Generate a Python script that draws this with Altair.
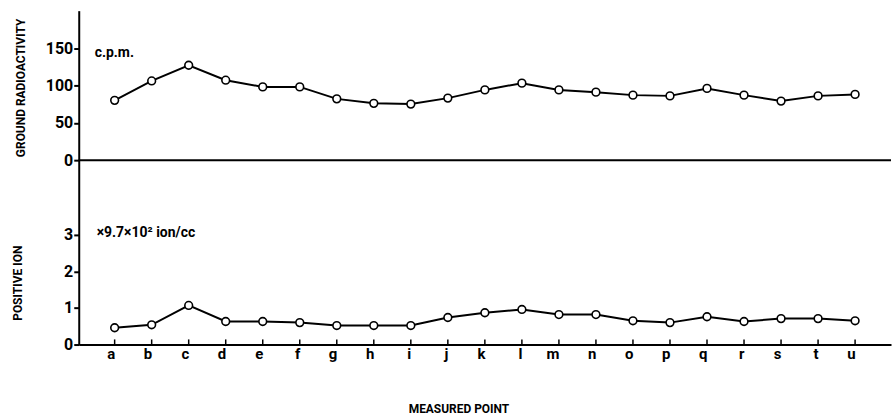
import altair as alt
import pandas as pd

# Measured points along the survey line
points = list("abcdefghijklmnopqrstu")

# Ground radioactivity (c.p.m.)
radioactivity = [80, 106, 127, 107, 98, 98, 82, 76, 75, 83, 94,
                 103, 94, 91, 87, 86, 96, 87, 79, 86, 88]

# Positive ion density (x 9.7 x 10^2 ion/cc)
positive_ion = [0.46, 0.54, 1.07, 0.63, 0.63, 0.60, 0.52, 0.52, 0.52, 0.74, 0.87,
                0.96, 0.82, 0.82, 0.65, 0.60, 0.76, 0.63, 0.71, 0.71, 0.65]

cpm_ticks = [0, 50, 100, 150]
ion_ticks = [0, 1, 2, 3]

# Unit notes written inside each panel
cpm_unit = ["c.p.m."]
ion_unit = ["×9.7×10²  ion/cc"]

df = pd.DataFrame({"point": points, "cpm": radioactivity, "ion": positive_ion})
one = pd.DataFrame({"cpm_unit": cpm_unit, "ion_unit": ion_unit})

FONT = "Roboto"
W = 815

x_scale = alt.Scale(type="point", domain=points, padding=0.97)
cpm_scale = alt.Scale(domain=[0, 200], nice=False)
ion_scale = alt.Scale(domain=[0, 5.045], nice=False)

axis_common = dict(
    domainColor="black", domainWidth=2, tickColor="black", tickWidth=2,
    labelFont=FONT, labelFontWeight="bold", labelColor="black",
    titleFont=FONT, titleFontWeight="bold", titleColor="black",
    grid=False,
)

point_style = dict(filled=True, fill="white", stroke="black",
                   strokeWidth=1.6, size=60, opacity=1)

text_style = dict(font=FONT, fontWeight="bold", fontSize=14, align="left",
                  baseline="middle", color="black")

# ---- upper panel: ground radioactivity ----
top_x = alt.X("point:N", scale=x_scale, axis=None)
top_y = alt.Y("cpm:Q", scale=cpm_scale,
              axis=alt.Axis(values=cpm_ticks, title="GROUND RADIOACTIVITY",
                            tickSize=5, labelPadding=1, labelFontSize=16,
                            titleFontSize=12, titleX=-58, titleY=77,
                            titleAlign="center", titleBaseline="middle",
                            **axis_common))

top_base = alt.Chart(df).encode(x=top_x, y=top_y)
top = alt.layer(
    # zero line running across the whole panel
    alt.Chart(one).mark_rule(color="black", strokeWidth=2).encode(
        y=alt.datum(0, scale=cpm_scale)),
    top_base.mark_line(color="black", strokeWidth=2),
    top_base.mark_point(**point_style),
    alt.Chart(one).mark_text(**text_style).encode(
        text="cpm_unit:N", x=alt.value(16), y=alt.datum(143)),
).properties(width=W, height=150)

# ---- lower panel: positive ion ----
bot_x = alt.X("point:N", scale=x_scale,
              axis=alt.Axis(title="MEASURED POINT", ticks=False, labelAngle=0,
                            labelFontSize=15, labelPadding=9,
                            titleFontSize=12, titleX=381, titleY=64,
                            titleAlign="center", titleBaseline="middle",
                            **axis_common))
bot_y = alt.Y("ion:Q", scale=ion_scale,
              axis=alt.Axis(values=ion_ticks, title="POSITIVE ION",
                            tickSize=5, labelPadding=1, labelFontSize=16,
                            titleFontSize=12, titleX=-61, titleY=123,
                            titleAlign="center", titleBaseline="middle",
                            **axis_common))

bot_base = alt.Chart(df).encode(x=bot_x, y=bot_y)
bottom = alt.layer(
    # short upward ticks at each measured point
    alt.Chart(df).mark_rule(color="black", strokeWidth=1.5).encode(
        x=alt.X("point:N", scale=x_scale), y=alt.datum(0), y2=alt.datum(0.14)),
    bot_base.mark_line(color="black", strokeWidth=2),
    bot_base.mark_point(**point_style),
    alt.Chart(one).mark_text(**text_style).encode(
        text="ion_unit:N", x=alt.value(18), y=alt.datum(3.05)),
).properties(width=W, height=185)

chart = alt.vconcat(top, bottom, spacing=0, bounds="flush").properties(
    padding={"left": 12, "top": 10, "right": 0, "bottom": 0},
    background="white",
).configure_view(stroke=None).configure_concat(spacing=0)

chart.save("out.html", embed_options={"renderer": "svg", "actions": False})
